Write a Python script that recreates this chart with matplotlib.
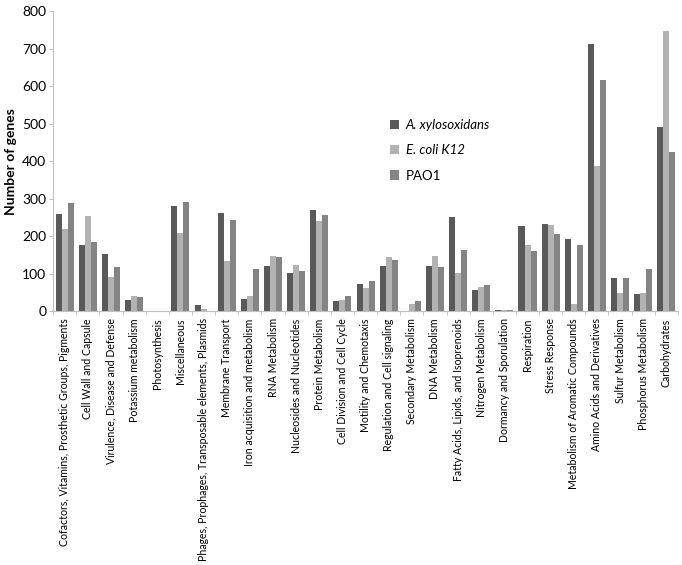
import matplotlib
matplotlib.use("Agg")
import matplotlib.pyplot as plt
import numpy as np

categories = [
    "Cofactors, Vitamins, Prosthetic Groups, Pigments",
    "Cell Wall and Capsule",
    "Virulence, Disease and Defense",
    "Potassium metabolism",
    "Photosynthesis",
    "Miscellaneous",
    "Phages, Prophages, Transposable elements, Plasmids",
    "Membrane Transport",
    "Iron acquisition and metabolism",
    "RNA Metabolism",
    "Nucleosides and Nucleotides",
    "Protein Metabolism",
    "Cell Division and Cell Cycle",
    "Motility and Chemotaxis",
    "Regulation and Cell signaling",
    "Secondary Metabolism",
    "DNA Metabolism",
    "Fatty Acids, Lipids, and Isoprenoids",
    "Nitrogen Metabolism",
    "Dormancy and Sporulation",
    "Respiration",
    "Stress Response",
    "Metabolism of Aromatic Compounds",
    "Amino Acids and Derivatives",
    "Sulfur Metabolism",
    "Phosphorus Metabolism",
    "Carbohydrates",
]
a_xylosoxidans = [260, 177, 153, 30, 0, 280, 18, 263, 32, 122, 102, 270, 27, 73, 120, 0, 122, 252, 58, 3, 228, 232, 192, 712, 88, 47, 492]
e_coli_k12 = [220, 255, 92, 42, 0, 208, 6, 135, 40, 147, 123, 240, 30, 62, 145, 20, 148, 103, 65, 4, 178, 230, 20, 388, 48, 48, 748]
pao1 = [290, 185, 117, 37, 0, 292, 0, 243, 112, 145, 108, 258, 40, 80, 137, 27, 118, 163, 70, 4, 160, 205, 178, 618, 88, 113, 425]

plt.rcParams['font.family'] = ['Lato', 'DejaVu Sans']

fig = plt.figure(figsize=(6.82, 5.65), dpi=100)
ax = fig.add_axes([0.078, 0.449, 0.916, 0.531])

x = np.arange(len(categories))
w = 0.26
ax.bar(x - w, a_xylosoxidans, w, color="#595959", label="A. xylosoxidans")
ax.bar(x, e_coli_k12, w, color="#b2b2b2", label="E. coli K12")
ax.bar(x + w, pao1, w, color="#848484", label="PAO1")

ax.set_xlim(-0.5, len(categories) - 0.5)
ax.set_ylim(0, 800)
ax.set_yticks(range(0, 801, 100))
ax.set_xticks(x)
ax.set_xticklabels(categories, rotation=90, fontsize=7.6)
ax.set_xticks(np.arange(-0.5, len(categories), 1), minor=True)
ax.tick_params(axis='x', which='major', length=0, pad=5)
ax.tick_params(axis='x', which='minor', length=3, color="#bfbfbf")
ax.tick_params(axis='y', labelsize=10, length=3, color="#bfbfbf", pad=2)
ax.set_ylabel("Number of genes", fontsize=10, fontweight='bold')
ax.yaxis.set_label_coords(-0.058, 0.5)

for s in ['top', 'right']:
    ax.spines[s].set_visible(False)
for s in ['left', 'bottom']:
    ax.spines[s].set_color("#bfbfbf")

leg = ax.legend(loc='upper left', bbox_to_anchor=(0.52, 0.68), frameon=False,
                fontsize=9.5, handlelength=0.7, handleheight=0.7, labelspacing=1.0,
                handletextpad=0.5)
for t in leg.get_texts()[:2]:
    t.set_fontstyle('italic')

fig.savefig("out.png", dpi=100)
